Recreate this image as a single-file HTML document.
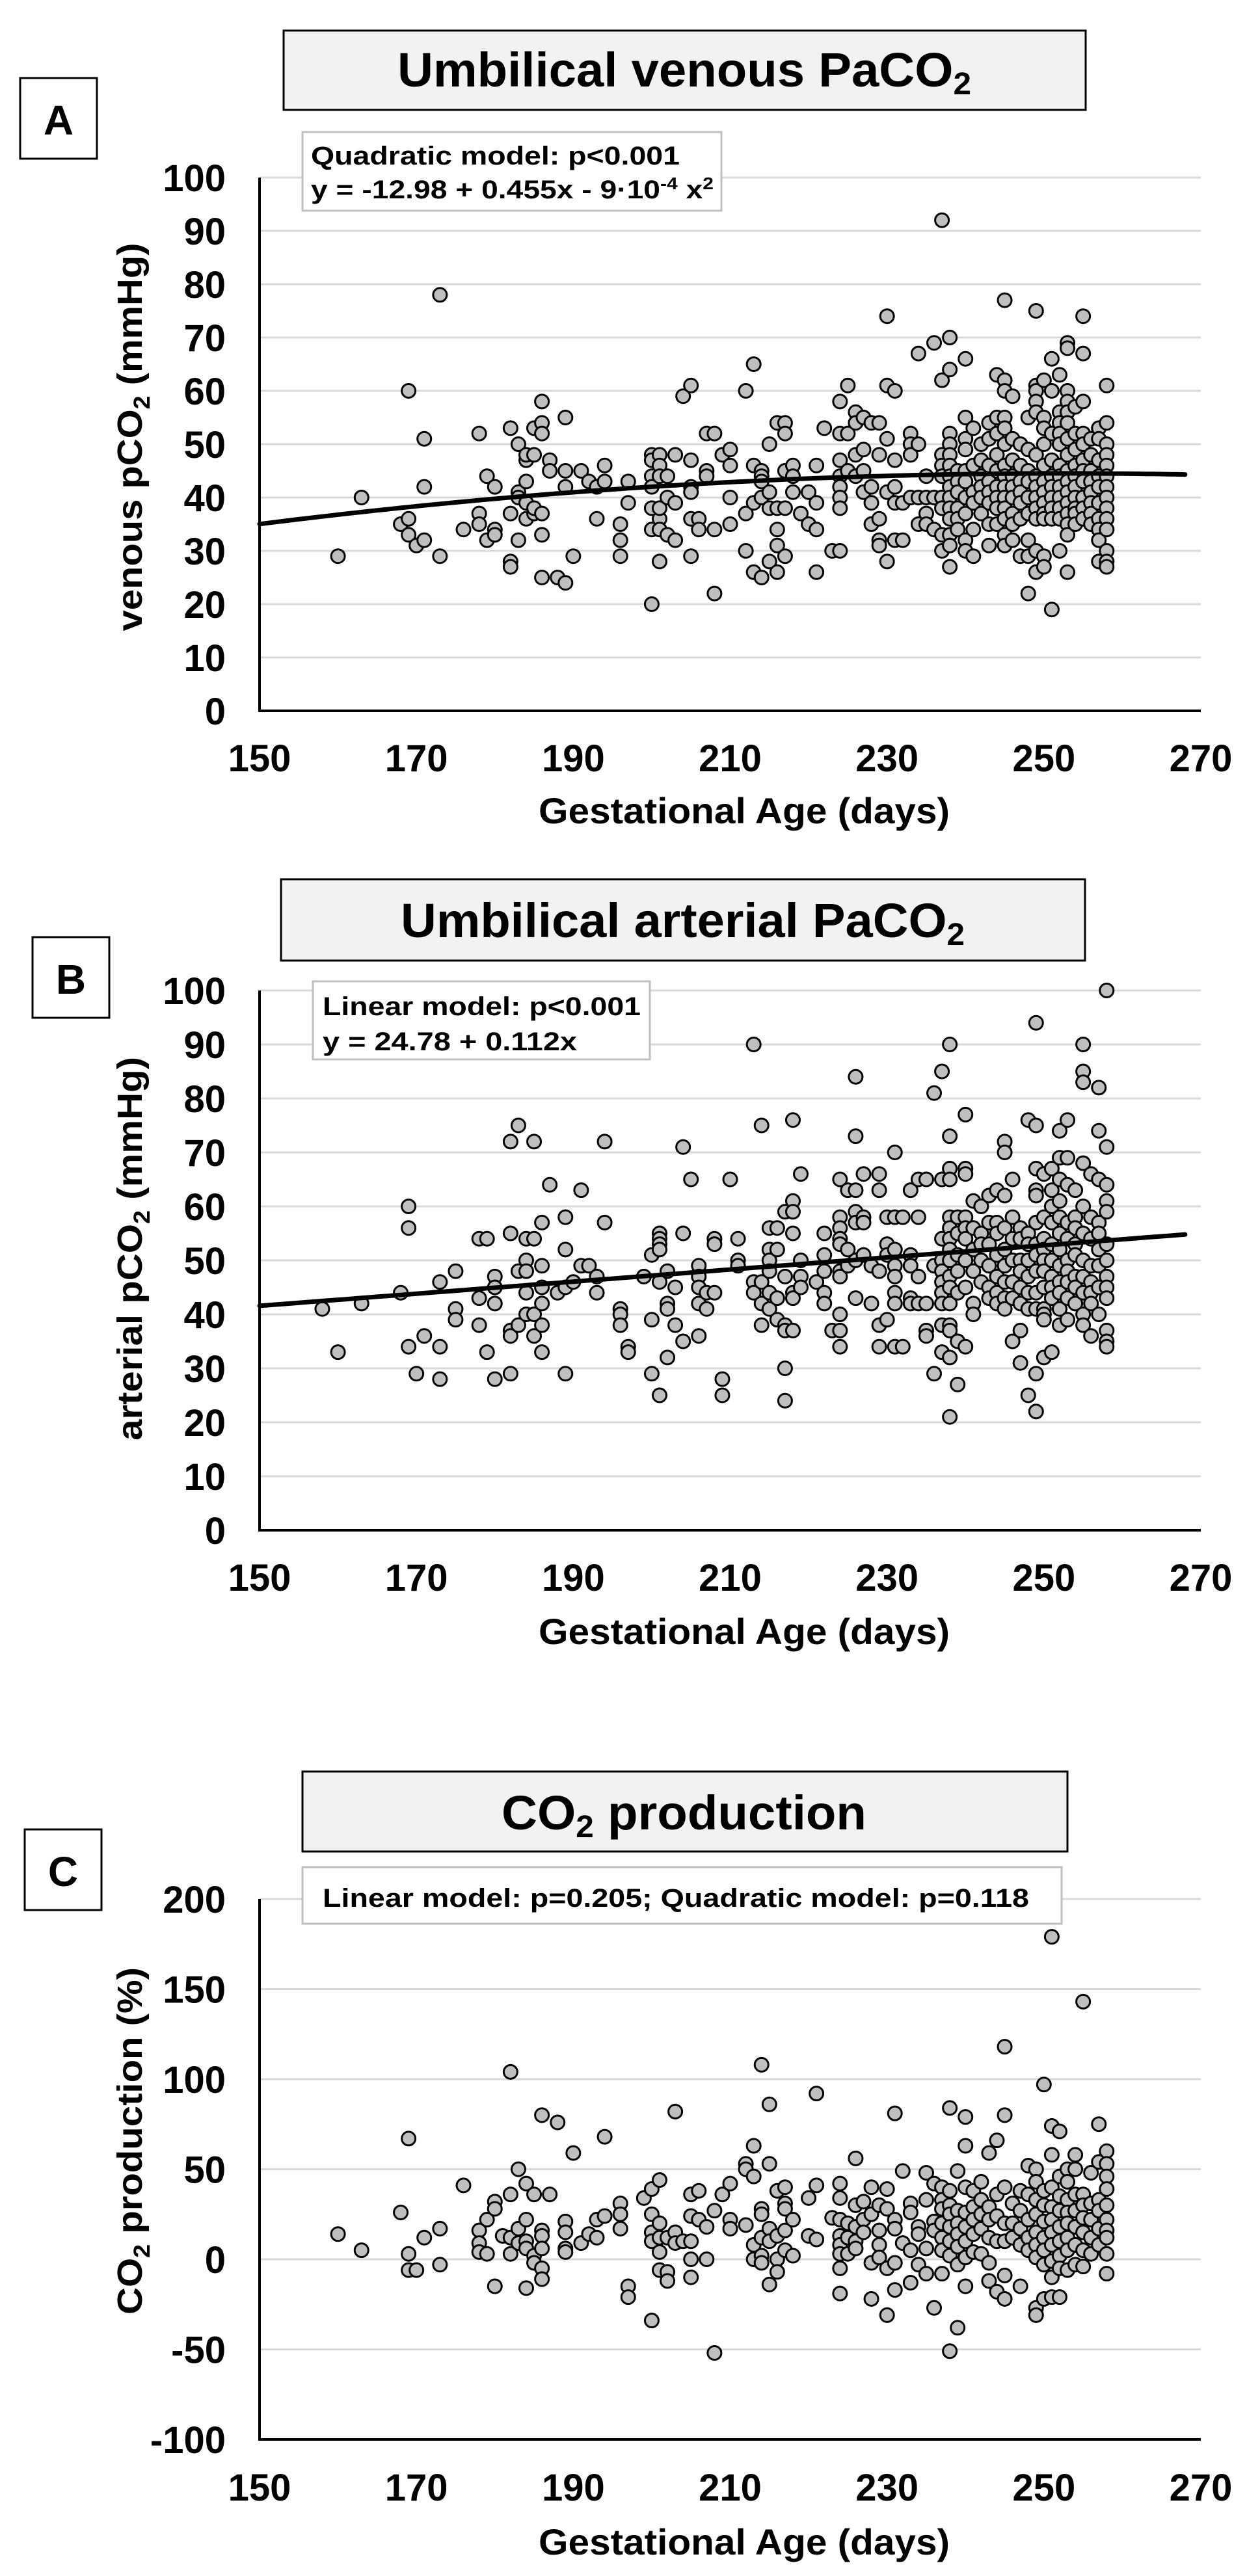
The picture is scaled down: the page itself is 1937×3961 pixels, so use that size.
<!DOCTYPE html>
<html><head><meta charset="utf-8"><title>Umbilical PaCO2 and CO2 production vs gestational age</title>
<style>
html,body{margin:0;padding:0;background:#fff;}
svg{display:block;}
text{font-family:"Liberation Sans",Arial,sans-serif;font-weight:bold;fill:#000;}
</style></head>
<body>
<svg id="fig" width="1937" height="3961" viewBox="0 0 1937 3961" xmlns="http://www.w3.org/2000/svg"></svg>
<script>
// ---------- DATA ----------
const xTicks=[150,170,190,210,230,250,270];
const pco2Ticks=[0,10,20,30,40,50,60,70,80,90,100];
const co2Ticks=[-100,-50,0,50,100,150,200];
const venousQuadCoef=[-12.98,0.455,-0.0009];
const arterialLinCoef=[24.78,0.112];
const fitRange=[150,268];

const venousPairs=[[160,29],[163,40],[168,35],[169,36],[169,60],[169,33],[170,31],[171,32],[171,51],[171,42],[173,78],[173,29],[176,34],[178,52],[178,37],[178,35],[179,44],[179,32],[180,34],[180,42],[180,33],[182,53],[182,37],[182,28],[182,27],[183,32],[183,50],[183,41],[183,40],[184,47],[184,48],[184,43],[184,36],[184,39],[185,48],[185,53],[185,37],[185,38],[186,58],[186,54],[186,52],[186,37],[186,33],[186,25],[187,47],[187,45],[188,25],[189,55],[189,45],[189,42],[189,24],[190,29],[191,45],[192,43],[193,42],[193,36],[194,46],[194,43],[197,43],[197,39],[196,35],[196,32],[196,29],[200,48],[200,47],[200,44],[200,42],[200,38],[200,34],[200,20],[201,48],[201,46],[201,44],[201,36],[201,38],[201,34],[201,28],[202,44],[202,40],[202,33],[203,48],[203,39],[203,32],[204,59],[205,61],[205,47],[205,42],[205,41],[205,36],[205,29],[206,36],[206,34],[207,45],[207,44],[207,52],[208,52],[208,34],[208,22],[209,48],[210,49],[210,46],[210,40],[210,35],[212,60],[212,37],[212,30],[213,65],[213,46],[213,39],[213,26],[214,45],[214,44],[214,43],[214,40],[214,25],[215,50],[215,41],[215,38],[215,28],[216,54],[216,38],[216,34],[216,31],[216,26],[217,54],[217,52],[217,45],[217,38],[217,29],[218,46],[218,44],[218,41],[219,37],[220,41],[220,35],[221,46],[221,39],[221,34],[221,26],[222,53],[223,30],[224,58],[224,52],[224,47],[224,44],[224,42],[224,40],[224,38],[224,30],[225,61],[225,52],[225,45],[226,56],[226,54],[226,44],[226,48],[227,55],[227,49],[227,45],[227,41],[228,54],[228,42],[228,39],[228,35],[229,54],[229,48],[229,36],[229,32],[229,31],[230,74],[230,61],[230,51],[230,41],[230,28],[231,60],[231,47],[231,42],[231,39],[231,32],[232,39],[232,32],[233,52],[233,50],[233,48],[233,40],[234,67],[234,50],[234,40],[234,35],[235,44],[235,40],[235,37],[235,35],[236,69],[236,40],[236,34]];
const venousColumns=[[237,[92,62,48,46,44,40,38,33,30]],[238,[70,64,52,50,48,46,44,42,40,38,36,33,31,27]],[239,[45,43,41,38,36,34]],[240,[66,55,51,49,45,43,40,37,32,30]],[241,[53,46,41,39,34,29]],[242,[50,47,44,42,40,37]],[243,[54,51,46,43,41,39,35,31]],[244,[63,55,52,48,45,42,40,38,35]],[245,[77,62,60,55,53,50,46,44,42,40,38,36,33,31]],[246,[59,51,47,44,42,40,37,35,32]],[247,[50,46,43,41,39,36,29]],[248,[55,49,45,43,40,37,32,29,22]],[249,[75,61,60,58,56,48,44,42,40,38,36,30,26]],[250,[62,55,53,50,46,43,41,39,37,36,29,27]],[251,[66,60,52,47,44,42,40,38,36,19]],[252,[63,56,54,52,50,46,44,42,40,38,36,30]],[253,[69,68,60,58,56,54,51,48,45,43,41,39,37,35,33,26]],[254,[57,52,49,46,44,42,40,38,37,35]],[255,[74,67,58,52,50,47,45,43,40,38,36]],[256,[51,48,45,43,41,39,37,35]],[257,[53,51,47,44,42,39,36,34,32,28]],[258,[61,54,50,48,46,44,42,40,38,36,34,30,28,27]]];

const arterialPairs=[[158,41],[160,33],[163,42],[168,44],[169,60],[169,56],[169,34],[170,29],[171,36],[173,46],[173,34],[173,28],[175,48],[175,41],[175,39],[178,54],[178,43],[178,38],[179,54],[179,33],[180,47],[180,45],[180,42],[180,28],[182,72],[182,55],[182,37],[182,36],[182,29],[183,75],[183,48],[183,38],[184,54],[184,50],[184,48],[184,44],[184,40],[185,72],[185,54],[185,40],[185,36],[186,57],[186,49],[186,45],[186,42],[186,38],[186,33],[187,64],[188,44],[189,58],[189,52],[189,45],[189,29],[190,46],[191,63],[191,49],[192,49],[193,47],[193,44],[194,72],[194,57],[196,41],[196,40],[196,38],[197,34],[197,33],[199,47],[200,51],[200,39],[200,29],[201,55],[201,46],[201,25],[201,54],[201,53],[201,52],[202,48],[202,42],[202,32],[202,41],[203,45],[203,38],[204,71],[204,55],[204,35],[205,65],[206,49],[206,47],[206,45],[206,42],[206,36],[207,44],[207,41],[208,54],[208,53],[208,44],[209,28],[209,25],[210,65],[211,54],[211,50],[211,49],[213,90],[213,46],[213,44],[214,75],[214,46],[214,42],[214,38],[215,56],[215,52],[215,50],[215,48],[215,44],[215,41],[216,56],[216,52],[216,43],[216,39],[217,59],[217,47],[217,38],[217,37],[217,30],[217,24],[218,76],[218,61],[218,59],[218,55],[218,44],[218,43],[218,37],[219,66],[219,50],[219,47],[219,45],[221,46],[222,55],[222,51],[222,48],[222,44],[222,42],[223,37],[224,65],[224,58],[224,56],[224,54],[224,53],[224,48],[224,47],[224,40],[224,37],[224,34],[225,63],[225,52],[225,49],[226,84],[226,73],[226,63],[226,59],[226,57],[226,50],[226,43],[227,66],[227,58],[227,57],[227,51],[228,49],[228,42],[229,66],[229,63],[229,48],[229,38],[229,34],[230,58],[230,53],[230,51],[230,39],[231,70],[231,58],[231,52],[231,49],[231,47],[231,44],[231,42],[231,34],[232,58],[232,34],[233,63],[233,51],[233,49],[233,43],[233,42],[234,65],[234,58],[234,47],[234,42],[235,65],[235,42],[235,37],[235,36],[236,81],[236,49],[236,29]];
const arterialColumns=[[237,[85,65,54,50,48,46,44,42,38,33]],[238,[90,73,67,65,58,56,54,52,50,47,45,42,38,37,32,21]],[239,[58,55,51,48,44,35,27]],[240,[77,67,66,58,56,54,50,45,34]],[241,[61,56,52,48,42,40]],[242,[60,55,53,50,46]],[243,[62,57,53,49,45,43]],[244,[63,57,55,51,47,44,42]],[245,[72,70,62,56,52,49,46,43,41]],[246,[65,58,54,50,46,43,35]],[247,[56,54,50,48,45,42,37,31]],[248,[76,55,53,50,47,44,41,25]],[249,[94,75,67,63,62,57,53,51,48,44,41,29,22]],[250,[66,58,54,52,50,48,45,41,40,39,32]],[251,[67,63,60,57,53,50,47,45,43,33]],[252,[74,69,65,61,58,55,52,49,46,44,41,38]],[253,[76,69,64,57,54,50,48,46,43,39]],[254,[63,58,56,53,51,47,45,42]],[255,[90,85,83,68,60,55,50,47,44,40,38]],[256,[66,58,54,49,46,44,42,36]],[257,[82,74,65,57,55,52,49,45,40]],[258,[100,71,64,61,59,53,50,47,45,43,37,35,34]]];

const co2Pairs=[[160,14],[163,5],[168,26],[169,67],[169,3],[169,-6],[170,-6],[171,12],[173,17],[173,-3],[176,41],[178,16],[178,9],[178,4],[179,22],[179,3],[180,32],[180,28],[180,-15],[181,13],[182,104],[182,36],[182,12],[182,3],[183,50],[183,17],[183,9],[184,42],[184,22],[184,10],[184,6],[184,-16],[185,36],[185,2],[185,-2],[186,80],[186,16],[186,13],[186,6],[186,-5],[186,-11],[187,36],[188,76],[189,21],[189,15],[189,6],[189,4],[190,59],[191,9],[192,14],[193,12],[193,22],[194,68],[194,24],[196,31],[196,25],[196,17],[197,-15],[197,-21],[199,34],[200,39],[200,25],[200,15],[200,10],[200,-34],[201,44],[201,20],[201,12],[201,4],[201,-6],[202,12],[202,-7],[202,-12],[203,82],[203,15],[203,9],[204,10],[205,36],[205,24],[205,10],[205,0],[205,-10],[206,38],[206,22],[207,18],[207,0],[208,-52],[208,27],[209,36],[210,42],[210,22],[210,17],[212,53],[212,50],[212,19],[213,63],[213,46],[213,8],[213,0],[214,108],[214,28],[214,25],[214,12],[214,2],[214,-2],[215,86],[215,53],[215,17],[215,10],[215,-14],[216,38],[216,13],[216,0],[216,-7],[217,40],[217,31],[217,28],[217,16],[217,5],[218,22],[218,2],[220,34],[220,13],[221,92],[221,41],[221,11],[223,23],[224,42],[224,34],[224,22],[224,13],[224,8],[224,3],[224,-5],[224,-19],[225,20],[225,12],[225,3],[226,56],[226,30],[226,18],[226,10],[226,6],[227,32],[227,22],[227,15],[228,40],[228,25],[228,-2],[228,-22],[229,30],[229,16],[229,8],[229,1],[230,39],[230,28],[230,-5],[230,-31],[231,81],[231,22],[231,17],[231,-2],[231,-17],[232,49],[232,9],[233,31],[233,26],[233,5],[233,-13],[234,18],[234,14],[234,-3],[235,48],[235,33],[235,6],[235,-8],[236,42],[236,21],[236,16],[236,-27]];
const co2Columns=[[237,[40,33,28,20,12,5,-8]],[238,[84,38,30,25,18,10,2,-51]],[239,[49,27,20,14,7,-3,-38]],[240,[79,63,40,26,18,10,1,-15]],[241,[38,29,22,14,4]],[242,[43,33,25,17,3]],[243,[59,29,22,12,-2,-12]],[244,[66,36,24,10,-18]],[245,[118,80,40,20,10,-9,-22]],[246,[31,20,12]],[247,[38,27,17,8,-15]],[248,[52,36,22,12,5]],[249,[50,43,33,25,15,8,1,-27,-31]],[250,[97,38,30,21,12,5,-3,-22]],[251,[179,74,58,40,29,22,15,8,-1,-10,-21]],[252,[71,46,35,27,18,10,2,-5,-21]],[253,[50,43,33,26,20,12,5,-6]],[254,[58,50,36,27,18,8,-3]],[255,[143,36,30,23,15,5,-4]],[256,[48,31,22,12,3]],[257,[75,54,33,27,17,8]],[258,[60,53,46,39,30,22,16,12,3,-8]]];

// ---------- DRAWING ----------
const NS="http://www.w3.org/2000/svg";
const svg=document.getElementById('fig');
function mk(tag,attrs,parent){const e=document.createElementNS(NS,tag);for(const k in attrs)e.setAttribute(k,attrs[k]);(parent||svg).appendChild(e);return e;}
const X0=399,X1=1846,GRID_END=1846;
function xScale(d){return X0+(d-150)/(270-150)*(X1-X0);}

function expand(pairs,cols){const out=pairs.slice();cols.forEach(c=>c[1].forEach(v=>out.push([c[0],v])));return out;}

function panel(p){
  const g=mk('g',{});
  
  
  const ys=v=>p.yBot+(v-p.yMin)/(p.yMax-p.yMin)*(p.yTop-p.yBot);
  // title box
  const tb=mk('rect',{x:p.title.x,y:p.title.y,width:p.title.w,height:p.title.h,fill:'#f2f2f2',stroke:'#000','stroke-width':3},g);
  
  const tt=mk('text',{x:p.title.tx,y:p.title.ty,'font-size':74,textLength:p.title.tw,lengthAdjust:'spacingAndGlyphs'},g);
  
  tt.innerHTML=p.title.html;
  // letter
  const lb=mk('rect',{x:p.letter.x,y:p.letter.y,width:118,height:124,fill:'#fff',stroke:'#000','stroke-width':3},g);
  
  const lt=mk('text',{x:p.letter.x+59,y:p.letter.y+87,'font-size':64,'text-anchor':'middle'},g);
  
  lt.textContent=p.letter.t;
  // gridlines & y ticks
  p.ticks.forEach(t=>{
    const y=ys(t);
    if(t!==p.yMin){const gl=mk('line',{x1:X0,x2:GRID_END,y1:y,y2:y,stroke:'#d9d9d9','stroke-width':3},g);
      }
    const tl=mk('text',{x:347,y:y+21,'font-size':58,'text-anchor':'end'},g);
    
    tl.textContent=t;
  });
  // stats box
  const sb=mk('rect',{x:p.stats.x,y:p.stats.y,width:p.stats.w,height:p.stats.h,fill:'#fff',stroke:'#bfbfbf','stroke-width':3},g);
  
  p.stats.lines.forEach(l=>{const s=mk('text',{x:l.x,y:l.y,'font-size':40,textLength:l.w,lengthAdjust:'spacingAndGlyphs'},g);
    s.innerHTML=l.html;});
  // axes
  const ya=mk('line',{x1:X0,x2:X0,y1:ys(p.yMax),y2:ys(p.yMin)+1.5,stroke:'#000','stroke-width':4},g);
  
  // points
  const pts=mk('g',{},g);
  
  expand(p.pairs,p.cols).forEach(d=>{
    const c=mk('circle',{cx:xScale(d[0]),cy:ys(d[1]),r:10.5,fill:'#bfbfbf',stroke:'#000','stroke-width':3},pts);
    
  });
  // fit
  if(p.fit){
    let dstr='';
    for(let d=fitRange[0];d<=fitRange[1];d+=1){dstr+=(d===fitRange[0]?'M':'L')+xScale(d).toFixed(1)+','+ys(p.fit(d)).toFixed(1);}
    const fl=mk('path',{d:dstr,fill:'none',stroke:'#000','stroke-width':7,'stroke-linecap':'round'},g);
    
  }
  const xa=mk('line',{x1:X0-2,x2:GRID_END,y1:ys(p.yMin),y2:ys(p.yMin),stroke:'#000','stroke-width':4},g);
  
  xTicks.forEach(t=>{const tl=mk('text',{x:xScale(t),y:p.xLabY,'font-size':58,'text-anchor':'middle'},g);
    tl.textContent=t;});
  const xt=mk('text',{x:1144,y:p.xTitleY,'font-size':56,'text-anchor':'middle',textLength:632,lengthAdjust:'spacingAndGlyphs'},g);
  
  xt.textContent='Gestational Age (days)';
  const yt=mk('text',{x:0,y:0,'font-size':54,'text-anchor':'middle',textLength:p.yTitle.len,lengthAdjust:'spacingAndGlyphs',transform:'translate(218,'+p.yTitle.cy+') rotate(-90)'},g);
  
  yt.innerHTML=p.yTitle.html;
}

const sub2='<tspan font-size="0.65em" dy="12">2</tspan>';
panel({name:'panel-a-venous',yMin:0,yMax:100,yBot:1093,yTop:273,ticks:pco2Ticks,
  pairs:venousPairs,cols:venousColumns,
  fit:d=>venousQuadCoef[0]+venousQuadCoef[1]*d+venousQuadCoef[2]*d*d,
  title:{x:436,y:47,w:1233,h:122,tx:611,ty:133,tw:882,html:'Umbilical venous PaCO'+sub2},
  letter:{x:31,y:120,t:'A'},
  stats:{x:465,y:203,w:644,h:121,lines:[{x:478,y:253,w:567,html:'Quadratic model: p&lt;0.001'},{x:478,y:305,w:619,html:'y = -12.98 + 0.455x - 9·10<tspan font-size="0.65em" dy="-14">-4</tspan><tspan dy="14"> x</tspan><tspan font-size="0.65em" dy="-14">2</tspan>'}]},
  xLabY:1186,xTitleY:1266,
  yTitle:{cy:672,len:597,html:'venous  pCO'+sub2+'<tspan dy="-12"> (mmHg)</tspan>'}});
panel({name:'panel-b-arterial',yMin:0,yMax:100,yBot:2353,yTop:1523,ticks:pco2Ticks,
  pairs:arterialPairs,cols:arterialColumns,
  fit:d=>arterialLinCoef[0]+arterialLinCoef[1]*d,
  title:{x:432,y:1352,w:1236,h:125,tx:616,ty:1441,tw:867,html:'Umbilical arterial PaCO'+sub2},
  letter:{x:50,y:1441,t:'B'},
  stats:{x:481,y:1509,w:518,h:120,lines:[{x:496,y:1561,w:489,html:'Linear model: p&lt;0.001'},{x:496,y:1615,w:391,html:'y = 24.78 + 0.112x'}]},
  xLabY:2446,xTitleY:2528,
  yTitle:{cy:1920,len:590,html:'arterial pCO'+sub2+'<tspan dy="-12"> (mmHg)</tspan>'}});
panel({name:'panel-c-co2-production',yMin:-100,yMax:200,yBot:3751,yTop:2920,ticks:co2Ticks,
  pairs:co2Pairs,cols:co2Columns,fit:null,
  title:{x:465,y:2724,w:1176,h:123,tx:771,ty:2813,tw:561,html:'CO'+sub2+'<tspan dy="-12"> production</tspan>'},
  letter:{x:38,y:2813,t:'C'},
  stats:{x:465,y:2871,w:1167,h:87,lines:[{x:496,y:2932,w:1086,html:'Linear model: p=0.205; Quadratic model: p=0.118'}]},
  xLabY:3845,xTitleY:3928,
  yTitle:{cy:3292,len:534,html:'CO'+sub2+'<tspan dy="-12"> production  (%)</tspan>'}});
</script>
</body></html>
